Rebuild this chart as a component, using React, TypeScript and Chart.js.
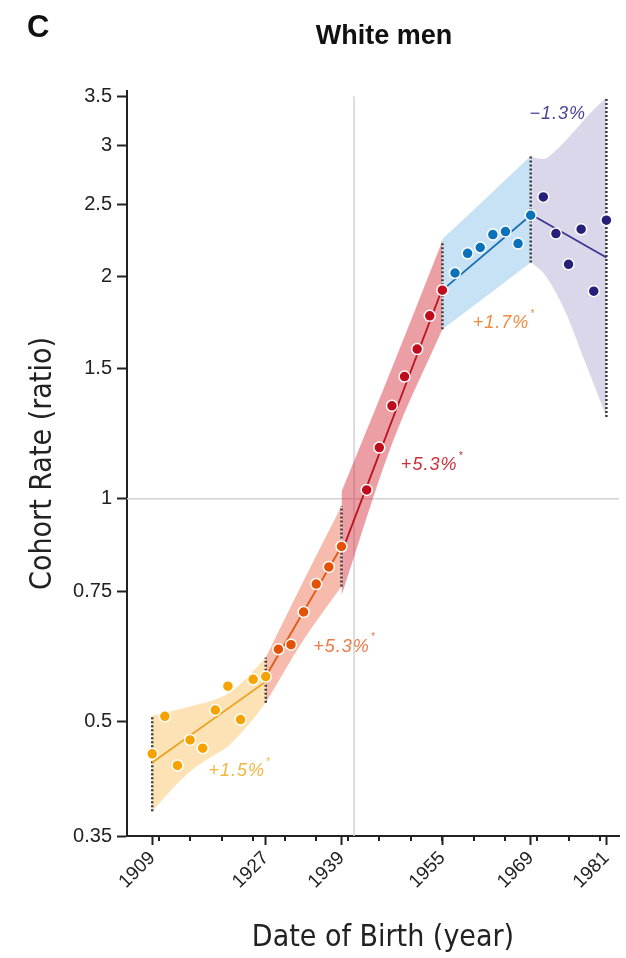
import React, { useEffect, useRef } from 'react';
import { Chart, registerables } from 'chart.js';

Chart.register(...registerables);

// Axis ranges and ticks
const X_MIN = 1905;
const X_MAX = 1983;
const Y_MIN = 0.35;
const Y_MAX = 3.56;
const X_TICKS = [1909, 1927, 1939, 1955, 1969, 1981];
const X_MINOR_TICKS = [1910, 1915, 1920, 1925, 1930, 1935, 1940, 1945, 1950, 1955, 1960, 1965, 1970, 1975, 1980];
const Y_TICKS = [0.35, 0.5, 0.75, 1, 1.5, 2, 2.5, 3, 3.5];
const REFERENCE_YEAR = 1941;
const REFERENCE_RATE = 1;

// Cohort rate ratios by birth year
const YEARS_A = [1909, 1911, 1913, 1915, 1917, 1919, 1921, 1923, 1925, 1927];
const RATES_A = [0.452, 0.508, 0.436, 0.472, 0.46, 0.518, 0.558, 0.503, 0.57, 0.575];
const YEARS_B = [1929, 1931, 1933, 1935, 1937, 1939];
const RATES_B = [0.626, 0.635, 0.703, 0.767, 0.809, 0.862];
const YEARS_C = [1943, 1945, 1947, 1949, 1951, 1953, 1955];
const RATES_C = [1.028, 1.173, 1.336, 1.463, 1.594, 1.768, 1.915];
const YEARS_D = [1957, 1959, 1961, 1963, 1965, 1967, 1969];
const RATES_D = [2.02, 2.148, 2.187, 2.277, 2.298, 2.214, 2.418];
const YEARS_E = [1971, 1973, 1975, 1977, 1979, 1981];
const RATES_E = [2.56, 2.284, 2.075, 2.315, 1.909, 2.381];

// Segment trend lines (fitted rate ratio at each end)
const TREND_A_X = [1909, 1927];
const TREND_A_Y = [0.44, 0.566];
const TREND_B_X = [1927, 1939];
const TREND_B_Y = [0.575, 0.862];
const TREND_C_X = [1939, 1955];
const TREND_C_Y = [0.845, 1.925];
const TREND_D_X = [1955, 1969];
const TREND_D_Y = [1.915, 2.418];
const TREND_E_X = [1969, 1981];
const TREND_E_Y = [2.425, 2.12];

// 95% confidence bands
const BAND_A_X = [1909, 1912, 1915, 1918, 1921, 1924, 1927];
const BAND_A_HI = [0.509, 0.516, 0.524, 0.532, 0.545, 0.573, 0.61];
const BAND_A_LO = [0.378, 0.404, 0.428, 0.446, 0.463, 0.492, 0.53];
const BAND_B_X = [1927, 1933, 1939];
const BAND_B_HI = [0.61, 0.775, 0.978];
const BAND_B_LO = [0.53, 0.645, 0.761];
const BAND_C_X = [1939, 1947, 1955];
const BAND_C_HI = [1.022, 1.503, 2.232];
const BAND_C_LO = [0.74, 1.186, 1.696];
const BAND_D_X = [1955, 1962, 1969];
const BAND_D_HI = [2.245, 2.554, 2.907];
const BAND_D_LO = [1.696, 1.881, 2.087];
const BAND_E_X = [1969, 1971, 1973, 1975, 1977, 1979, 1981];
const BAND_E_HI = [2.9, 2.88, 2.96, 3.08, 3.22, 3.36, 3.49];
const BAND_E_LO = [2.09, 2.02, 1.9, 1.75, 1.58, 1.43, 1.29];

// Annual percent change labels
const CHANGE_LABELS = ['+1.5%', '+5.3%', '+5.3%', '+1.7%', '\u22121.3%'];
const CHANGE_SIGNIFICANT = [true, true, true, true, false];
const CHANGE_X = [1922.4, 1939.0, 1952.9, 1964.3, 1973.3];
const CHANGE_Y = [0.428, 0.631, 1.111, 1.728, 3.31];
const CHANGE_COLORS = ['#F2B540', '#EC7A44', '#C8303A', '#EF8B3E', '#4A4399'];

const SANS = "'Liberation Sans', Arial, Helvetica, sans-serif";
const NARROW = "'Liberation Sans Narrow', 'DejaVu Sans Condensed', 'Liberation Sans', Arial, sans-serif";
const AXIS_COLOR = '#222';

const pts = (xs: number[], ys: number[]) => xs.map((x, i) => ({ x, y: ys[i] }));

const SEGMENTS = [
  { years: YEARS_A, rates: RATES_A, tx: TREND_A_X, ty: TREND_A_Y, bx: BAND_A_X, hi: BAND_A_HI, lo: BAND_A_LO,
    point: '#F4A300', line: '#EBA11C', band: 'rgba(248, 190, 90, 0.45)' },
  { years: YEARS_B, rates: RATES_B, tx: TREND_B_X, ty: TREND_B_Y, bx: BAND_B_X, hi: BAND_B_HI, lo: BAND_B_LO,
    point: '#E35205', line: '#E05A14', band: 'rgba(236, 105, 70, 0.45)' },
  { years: YEARS_C, rates: RATES_C, tx: TREND_C_X, ty: TREND_C_Y, bx: BAND_C_X, hi: BAND_C_HI, lo: BAND_C_LO,
    point: '#C00D1E', line: '#B8131F', band: 'rgba(212, 40, 55, 0.45)' },
  { years: YEARS_D, rates: RATES_D, tx: TREND_D_X, ty: TREND_D_Y, bx: BAND_D_X, hi: BAND_D_HI, lo: BAND_D_LO,
    point: '#0B72BA', line: '#1A6FAF', band: 'rgba(100, 175, 225, 0.36)' },
  { years: YEARS_E, rates: RATES_E, tx: TREND_E_X, ty: TREND_E_Y, bx: BAND_E_X, hi: BAND_E_HI, lo: BAND_E_LO,
    point: '#27207A', line: '#3A3591', band: 'rgba(120, 110, 175, 0.28)' },
];

function buildDatasets(): any[] {
  const ds: any[] = [];
  // reference cross-hair at the reference cohort
  ds.push({
    data: [{ x: REFERENCE_YEAR, y: Y_MIN }, { x: REFERENCE_YEAR, y: 3.5 }],
    borderColor: '#d2d2d2', borderWidth: 1.5, pointRadius: 0, order: 100,
  });
  ds.push({
    data: [{ x: X_MIN, y: REFERENCE_RATE }, { x: X_MAX, y: REFERENCE_RATE }],
    borderColor: '#d2d2d2', borderWidth: 1.5, pointRadius: 0, order: 100,
  });
  // confidence bands: upper edge followed by lower edge filled to it
  SEGMENTS.forEach((s) => {
    ds.push({
      data: pts(s.bx, s.hi), borderWidth: 0, borderColor: 'rgba(0,0,0,0)', pointRadius: 0,
      cubicInterpolationMode: 'monotone', fill: false, order: 50,
    });
    ds.push({
      data: pts(s.bx, s.lo), borderWidth: 0, borderColor: 'rgba(0,0,0,0)', pointRadius: 0,
      cubicInterpolationMode: 'monotone', fill: '-1', backgroundColor: s.band, order: 50,
    });
  });
  // dotted boundaries at segment ends
  const edges: { x: number; lo: number; hi: number }[] = [];
  edges.push({ x: SEGMENTS[0].bx[0], lo: SEGMENTS[0].lo[0], hi: SEGMENTS[0].hi[0] });
  SEGMENTS.forEach((s) => {
    const n = s.bx.length - 1;
    edges.push({ x: s.bx[n], lo: s.lo[n], hi: s.hi[n] });
  });
  edges.forEach((e) => {
    ds.push({
      data: [{ x: e.x, y: e.lo }, { x: e.x, y: e.hi }],
      borderColor: '#3a3a3a', borderWidth: 2.5, borderDash: [2, 2], pointRadius: 0, order: 20,
    });
  });
  // trend lines
  SEGMENTS.forEach((s) => {
    ds.push({ data: pts(s.tx, s.ty), borderColor: s.line, borderWidth: 1.8, pointRadius: 0, order: 10 });
  });
  // observed cohort rate ratios
  SEGMENTS.forEach((s) => {
    ds.push({
      data: pts(s.years, s.rates), showLine: false, pointRadius: 5.5, pointBorderWidth: 1.5,
      pointBackgroundColor: s.point, pointBorderColor: '#ffffff', order: 1,
    });
  });
  return ds;
}

const decorations = {
  id: 'decorations',
  afterDraw(chart: any) {
    const { ctx, chartArea, scales } = chart;
    const x = scales.x;
    const y = scales.y;
    ctx.save();

    // minor ticks on the year axis
    ctx.strokeStyle = AXIS_COLOR;
    ctx.lineWidth = 2;
    X_MINOR_TICKS.forEach((v) => {
      const px = Math.round(x.getPixelForValue(v));
      ctx.beginPath();
      ctx.moveTo(px, chartArea.bottom);
      ctx.lineTo(px, chartArea.bottom + 5);
      ctx.stroke();
    });

    // annual percent change labels
    CHANGE_LABELS.forEach((label, i) => {
      const px = x.getPixelForValue(CHANGE_X[i]);
      const py = y.getPixelForValue(CHANGE_Y[i]);
      ctx.fillStyle = CHANGE_COLORS[i];
      ctx.font = `italic 18px ${SANS}`;
      (ctx as any).letterSpacing = '1px';
      ctx.textAlign = 'center';
      ctx.textBaseline = 'middle';
      ctx.fillText(label, px, py);
      if (CHANGE_SIGNIFICANT[i]) {
        const w = ctx.measureText(label).width;
        ctx.font = `italic 10px ${SANS}`;
        ctx.textAlign = 'left';
        ctx.fillText('*', px + w / 2 + 1, py - 9);
      }
    });
    (ctx as any).letterSpacing = '0px';

    // panel letter and title
    ctx.fillStyle = '#111';
    ctx.textBaseline = 'middle';
    ctx.textAlign = 'left';
    ctx.font = `bold 31px ${SANS}`;
    ctx.fillText('C', 27, 28);
    ctx.textAlign = 'center';
    ctx.font = `bold 27px ${SANS}`;
    ctx.fillText('White men', 384, 37);

    // axis titles
    ctx.fillStyle = '#222';
    ctx.font = `30px ${NARROW}`;
    ctx.textAlign = 'center';
    ctx.textBaseline = 'middle';
    ctx.fillText('Date of Birth (year)', 383, 938);
    ctx.save();
    ctx.translate(43, (chartArea.top + chartArea.bottom) / 2);
    ctx.rotate(-Math.PI / 2);
    ctx.fillText('Cohort Rate (ratio)', 0, 0);
    ctx.restore();

    ctx.restore();
  },
};

export default function App() {
  const ref = useRef<HTMLCanvasElement | null>(null);

  useEffect(() => {
    document.body.style.margin = '0';
    const canvas = ref.current;
    if (!canvas) return;
    const chart = new Chart(canvas, {
      type: 'line',
      data: { datasets: buildDatasets() },
      options: {
        responsive: false,
        animation: false,
        devicePixelRatio: 1,
        layout: { padding: { top: 91, right: 3, left: 0, bottom: 0 } },
        plugins: {
          legend: { display: false },
          tooltip: { enabled: false },
          title: { display: false },
        },
        elements: { line: { tension: 0 } },
        scales: {
          x: {
            type: 'linear',
            min: X_MIN,
            max: X_MAX,
            afterBuildTicks: (s: any) => { s.ticks = X_TICKS.map((v) => ({ value: v })); },
            afterFit: (s: any) => { s.height = 122; },
            ticks: {
              autoSkip: false,
              minRotation: 45,
              maxRotation: 45,
              padding: 2,
              color: AXIS_COLOR,
              font: { family: SANS, size: 19 },
              callback: (v: any) => String(v),
            },
            grid: { color: 'rgba(0,0,0,0)', tickColor: AXIS_COLOR, tickLength: 9, tickWidth: 2 },
            border: { display: true, color: AXIS_COLOR, width: 2 },
          },
          y: {
            type: 'logarithmic',
            min: Y_MIN,
            max: Y_MAX,
            afterBuildTicks: (s: any) => { s.ticks = Y_TICKS.map((v) => ({ value: v })); },
            afterFit: (s: any) => { s.width = 127; },
            ticks: {
              autoSkip: false,
              padding: 5,
              color: AXIS_COLOR,
              font: { family: SANS, size: 20 },
              callback: (v: any) => String(v),
            },
            grid: { color: 'rgba(0,0,0,0)', tickColor: AXIS_COLOR, tickLength: 10, tickWidth: 2 },
            border: { display: true, color: AXIS_COLOR, width: 2 },
          },
        },
      } as any,
      plugins: [decorations],
    });
    return () => chart.destroy();
  }, []);

  return (
    <div style={{ width: 626, height: 958 }}>
      <canvas ref={ref} width={626} height={958} style={{ display: 'block' }} />
    </div>
  );
}
